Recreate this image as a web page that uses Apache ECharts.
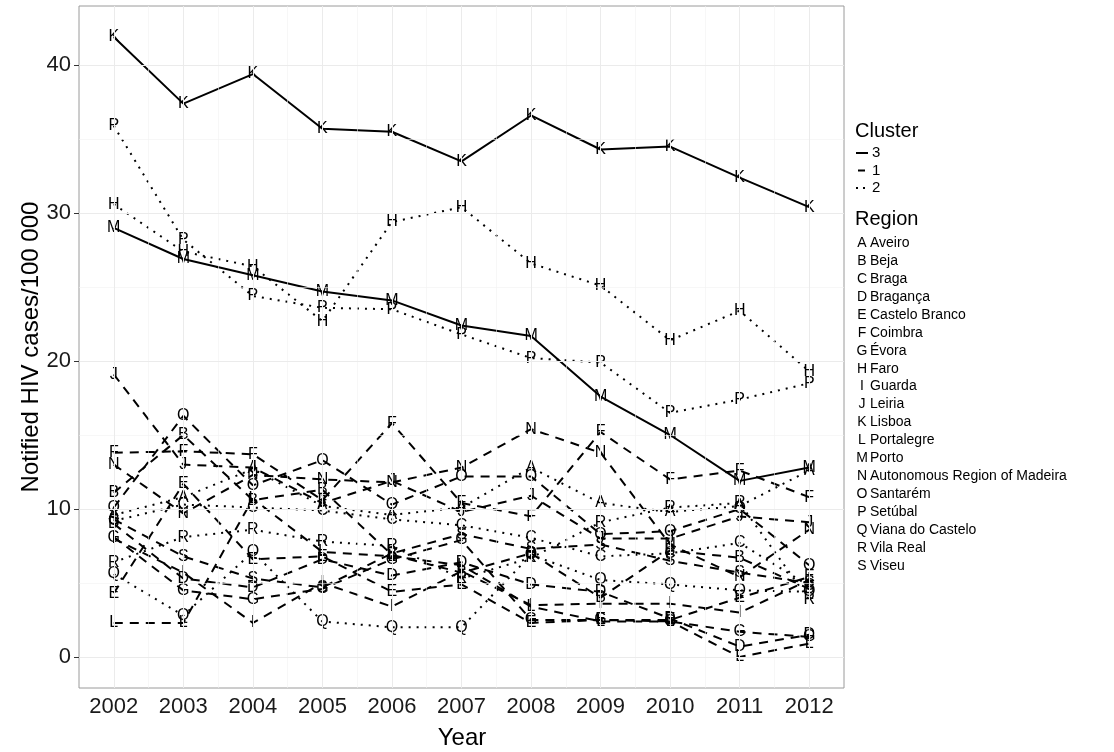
<!DOCTYPE html>
<html>
<head>
<meta charset="utf-8">
<script src="https://cdn.jsdelivr.net/npm/echarts@6/dist/echarts.min.js"></script>
<style>
html,body{margin:0;padding:0;background:#fff;}
#chart{width:1114px;height:752px;}
</style>
</head>
<body>
<div id="chart"></div>
<script>
// ---- data ----
const years = [2002, 2003, 2004, 2005, 2006, 2007, 2008, 2009, 2010, 2011, 2012];
const yTickValues = [0, 10, 20, 30, 40];

const A_Aveiro          = [9.6, 10.8, 12.7, 10.2, 9.6, 10.1, 12.8, 10.4, 9.8, 10.2, 12.6];
const B_Beja            = [11.1, 15.0, 10.6, 11.3, 6.9, 5.7, 7.0, 4.0, 7.2, 6.7, 4.6];
const C_Braga           = [9.2, 10.3, 10.1, 9.9, 9.3, 8.9, 8.05, 6.8, 7.0, 7.7, 4.8];
const D_Braganca        = [9.0, 5.3, 4.7, 6.6, 5.5, 6.4, 4.9, 4.4, 2.6, 0.7, 1.5];
const E_CasteloBranco   = [4.3, 11.7, 6.6, 6.8, 4.4, 4.9, 2.3, 2.5, 2.5, 4.0, 5.4];
const F_Coimbra         = [13.8, 13.9, 13.7, 10.6, 15.8, 10.4, 9.5, 15.2, 12.0, 12.6, 10.8];
const G_Evora           = [8.1, 4.5, 3.9, 4.6, 6.6, 7.9, 2.5, 2.5, 2.4, 1.7, 1.35];
const H_Faro            = [30.6, 27.4, 26.4, 22.7, 29.4, 30.4, 26.6, 25.1, 21.4, 23.4, 19.3];
const I_Guarda          = [8.0, 5.7, 2.3, 5.0, 3.4, 5.8, 3.5, 3.6, 3.6, 3.0, 5.2];
const J_Leiria          = [19.1, 13.0, 12.8, 10.4, 11.9, 9.8, 10.9, 8.0, 8.0, 9.5, 9.1];
const K_Lisboa          = [41.9, 37.4, 39.4, 35.7, 35.5, 33.5, 36.6, 34.3, 34.5, 32.4, 30.4];
const L_Portalegre      = [2.3, 2.3, 10.7, 7.1, 6.8, 6.2, 3.4, 2.4, 2.4, 0.0, 0.9];
const M_Porto           = [29.0, 26.9, 25.8, 24.7, 24.1, 22.4, 21.7, 17.6, 15.0, 11.9, 12.8];
const N_Madeira         = [13.0, 9.7, 12.3, 12.0, 11.8, 12.8, 15.4, 13.8, 7.6, 5.4, 8.6];
const O_Santarem        = [10.1, 16.3, 11.6, 13.3, 10.3, 12.2, 12.2, 8.3, 8.5, 10.0, 6.2];
const P_Setubal         = [35.9, 28.2, 24.4, 23.6, 23.5, 21.8, 20.2, 19.9, 16.5, 17.4, 18.5];
const Q_VianaDoCastelo  = [5.6, 2.8, 7.1, 2.4, 2.0, 2.0, 6.9, 5.2, 4.9, 4.5, 4.4];
const R_VilaReal        = [6.4, 8.1, 8.6, 7.8, 7.5, 5.3, 6.7, 9.1, 10.1, 10.4, 3.85];
const S_Viseu           = [9.3, 6.8, 5.3, 4.7, 7.0, 8.3, 7.3, 7.6, 6.5, 5.7, 5.0];

const regionLetters = ['A','B','C','D','E','F','G','H','I','J','K','L','M','N','O','P','Q','R','S'];
const regionNames = ['Aveiro','Beja','Braga','Bragança','Castelo Branco','Coimbra','Évora','Faro','Guarda','Leiria','Lisboa','Portalegre','Porto','Autonomous Region of Madeira','Santarém','Setúbal','Viana do Castelo','Vila Real','Viseu'];
const regionValues = [A_Aveiro, B_Beja, C_Braga, D_Braganca, E_CasteloBranco, F_Coimbra, G_Evora, H_Faro, I_Guarda, J_Leiria, K_Lisboa, L_Portalegre, M_Porto, N_Madeira, O_Santarem, P_Setubal, Q_VianaDoCastelo, R_VilaReal, S_Viseu];
// cluster membership per region
const regionCluster = ['2','1','2','1','1','1','1','2','1','1','3','1','3','1','1','2','2','2','1'];
const clusterOrder = ['3','1','2'];

// ---- styles ----
const FONT = '"Liberation Sans", Arial, sans-serif';
const dashFor = { '3': 'solid', '1': [9, 7], '2': [2, 6] };

const series = [];
// background grid lines drawn through axis scales
const majorX = years;
const minorX = years.slice(0, -1).map(v => v + 0.5);
const majorY = yTickValues;
const minorY = [5, 15, 25, 35];
series.push({
  type: 'line', data: [], silent: true, z: 0, symbol: 'none',
  markLine: {
    silent: true, symbol: 'none', label: { show: false }, animation: false,
    data: [
      ...minorX.map(v => ({ xAxis: v, lineStyle: { color: '#f2f2f2', width: 0.6, type: 'solid' } })),
      ...minorY.map(v => ({ yAxis: v, lineStyle: { color: '#f2f2f2', width: 0.6, type: 'solid' } })),
      ...majorX.map(v => ({ xAxis: v, lineStyle: { color: '#ebebeb', width: 1, type: 'solid' } })),
      ...majorY.map(v => ({ yAxis: v, lineStyle: { color: '#ebebeb', width: 1, type: 'solid' } }))
    ]
  }
});

regionLetters.forEach((letter, i) => {
  const cl = regionCluster[i];
  series.push({
    name: letter,
    type: 'line',
    z: 3,
    data: years.map((y, j) => [y, regionValues[i][j]]),
    symbol: 'circle',
    symbolSize: 0.5,
    showSymbol: true,
    itemStyle: { color: 'rgba(0,0,0,0)', borderWidth: 0 },
    lineStyle: { color: '#000', width: 2, type: dashFor[cl], cap: 'butt' },
    label: {
      show: true, position: 'inside', formatter: letter, distance: 0,
      fontSize: 16, fontFamily: FONT, color: '#000', opacity: 1
    },
    emphasis: { disabled: true }
  });
});

// ---- legend graphics ----
const graphics = [];
graphics.push({ type: 'text', left: 855, top: 121, style: { text: 'Cluster', font: '20px ' + FONT, fill: '#000' } });
clusterOrder.forEach((c, k) => {
  const y = 153 + k * 17.5;
  let dash = null, x1 = 856, x2 = 868;
  if (c === '1') { dash = [7, 20]; x1 = 858; x2 = 866; }
  if (c === '2') { dash = [2, 5]; }
  graphics.push({ type: 'line', shape: { x1: x1, y1: y, x2: x2, y2: y }, style: { stroke: '#000', lineWidth: 2, lineDash: dash } });
  graphics.push({ type: 'text', x: 872, y: y, style: { text: c, font: '15px ' + FONT, fill: '#000', textVerticalAlign: 'middle' } });
});
graphics.push({ type: 'text', left: 855, top: 209, style: { text: 'Region', font: '20px ' + FONT, fill: '#000' } });
regionLetters.forEach((letter, i) => {
  const y = 243 + i * 17.95;
  graphics.push({ type: 'text', x: 862, y: y, style: { text: letter, font: '14px ' + FONT, fill: '#000', textAlign: 'center', textVerticalAlign: 'middle' } });
  graphics.push({ type: 'text', x: 870, y: y, style: { text: regionNames[i], font: '14px ' + FONT, fill: '#000', textVerticalAlign: 'middle' } });
});
// axis titles
graphics.push({ type: 'text', x: 462, y: 738, style: { text: 'Year', font: '24px ' + FONT, fill: '#000', textAlign: 'center', textVerticalAlign: 'middle' } });
graphics.push({ type: 'text', x: 31, y: 347, rotation: Math.PI / 2, style: { text: 'Notified HIV cases/100 000', font: '24px ' + FONT, fill: '#000', textAlign: 'center', textVerticalAlign: 'middle' } });

const chart = echarts.init(document.getElementById('chart'), null, { renderer: 'canvas' });
chart.setOption({
  animation: false,
  backgroundColor: '#fff',
  grid: { left: 79, right: 270, top: 6, bottom: 64, show: true, borderColor: '#9a9a9a', borderWidth: 1, backgroundColor: 'transparent' },
  xAxis: {
    type: 'value', min: 2001.5, max: 2012.5,
    axisLine: { show: false },
    axisTick: { show: true, customValues: years, length: 5, lineStyle: { color: '#333' } },
    axisLabel: { customValues: years, fontSize: 22, fontFamily: FONT, color: '#1a1a1a', margin: 8, formatter: v => String(v) },
    splitLine: { show: false }
  },
  yAxis: {
    type: 'value', min: -2.1, max: 44.0,
    axisLine: { show: false },
    axisTick: { show: true, customValues: yTickValues, length: 5, lineStyle: { color: '#333' } },
    axisLabel: { customValues: yTickValues, fontSize: 22, fontFamily: FONT, color: '#1a1a1a', margin: 8 },
    splitLine: { show: false }
  },
  series: series,
  graphic: graphics
});
</script>
</body>
</html>
